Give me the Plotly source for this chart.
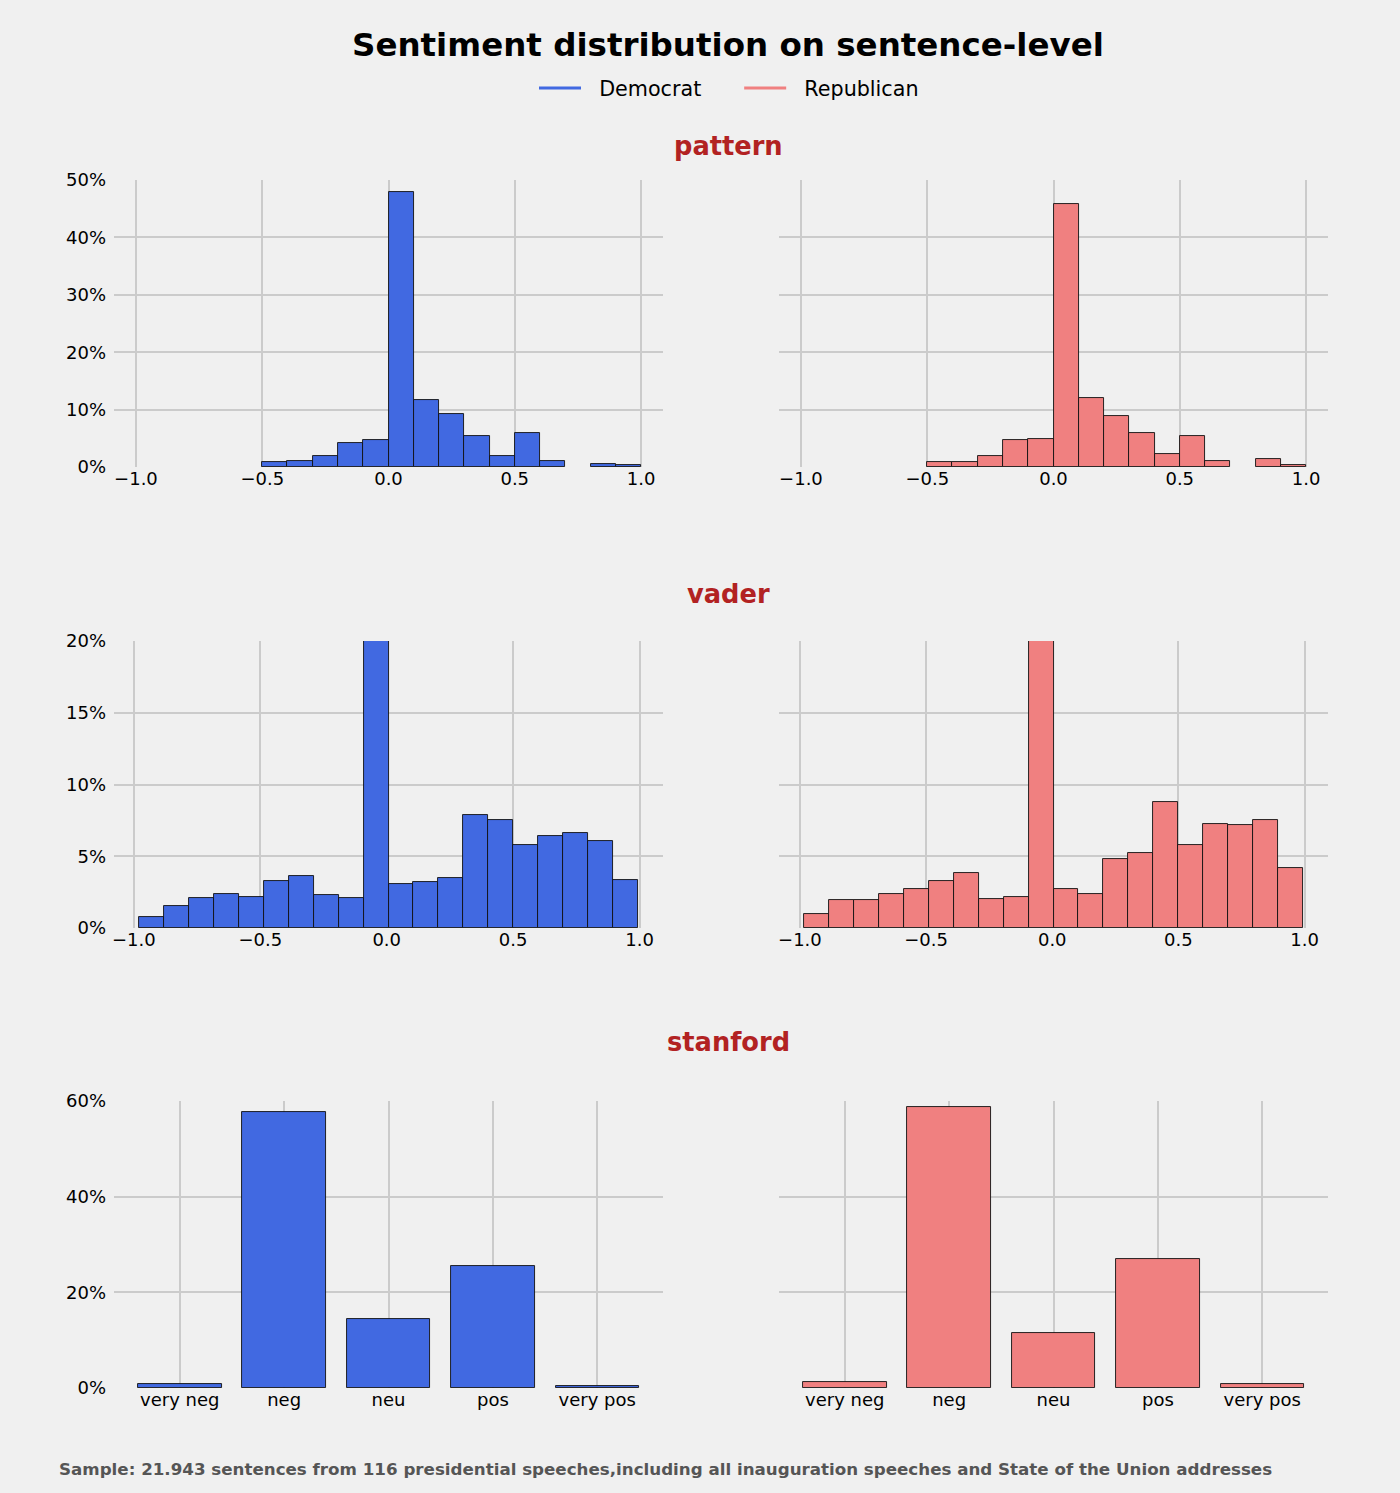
import numpy as np
import plotly.graph_objects as go

# ---------------- data (percent of sentences) ----------------
parties = ["Democrat", "Republican"]
party_colors = ["#4169E1", "#F08080"]

# pattern: bins of width 0.1 from -0.5 to 1.0
pattern_edges = [-0.5, -0.4, -0.3, -0.2, -0.1, 0.0, 0.1, 0.2, 0.3, 0.4, 0.5, 0.6, 0.7, 0.8, 0.9, 1.0]
pattern_dem = [0.9, 1.0, 2.0, 4.2, 4.7, 47.9, 11.7, 9.2, 5.4, 2.0, 5.9, 1.0, 0.0, 0.5, 0.3]
pattern_rep = [0.9, 0.9, 2.0, 4.7, 4.8, 45.9, 12.1, 8.9, 5.9, 2.2, 5.4, 1.0, 0.0, 1.4, 0.3]

# vader: 20 equal bins between the min and max compound score
vader_dem_range = [-0.980, 0.994]
vader_rep_range = [-0.984, 0.994]
vader_dem = [0.75, 1.5, 2.1, 2.4, 2.15, 3.25, 3.6, 2.3, 2.1, 24.0,
             3.05, 3.2, 3.5, 7.9, 7.55, 5.75, 6.4, 6.65, 6.05, 3.35]
vader_rep = [1.0, 1.95, 1.95, 2.35, 2.75, 3.25, 3.8, 2.0, 2.15, 24.0,
             2.75, 2.4, 4.8, 5.2, 8.75, 5.75, 7.25, 7.2, 7.55, 4.2]

# stanford: categorical classes
stanford_labels = ["very neg", "neg", "neu", "pos", "very pos"]
stanford_dem = [0.8, 57.8, 14.5, 25.6, 0.5]
stanford_rep = [1.3, 58.7, 11.4, 26.9, 0.8]

pattern_xticks = [-1.0, -0.5, 0.0, 0.5, 1.0]
pattern_xticktext = ["\u22121.0", "\u22120.5", "0.0", "0.5", "1.0"]

# ---------------- layout geometry ----------------
W, H = 1400, 1493
FONT = "DejaVu Sans"
BG = "#F0F0F0"
GRID = "#CBCBCB"
NB = "\u00a0"

col_dom = [[114 / W, 663 / W], [779 / W, 1328 / W]]
row_px = [(180, 467), (641, 928), (1101, 1388)]
row_dom = [[1 - b / H, 1 - t / H] for t, b in row_px]

fig = go.Figure()


def hist_bars(edges, vals, color, xa, ya):
    edges = np.asarray(edges, dtype=float)
    centers = (edges[:-1] + edges[1:]) / 2
    widths = edges[1:] - edges[:-1]
    yv = [v if v > 0 else None for v in vals]
    fig.add_trace(go.Bar(
        x=centers, y=yv, width=widths,
        marker=dict(color=color, line=dict(color="#111111", width=0.9)),
        xaxis=xa, yaxis=ya, showlegend=False, hoverinfo="x+y"))


# row 1: pattern
hist_bars(pattern_edges, pattern_dem, party_colors[0], "x", "y")
hist_bars(pattern_edges, pattern_rep, party_colors[1], "x2", "y2")

# row 2: vader
vd_edges = np.linspace(vader_dem_range[0], vader_dem_range[1], len(vader_dem) + 1)
vr_edges = np.linspace(vader_rep_range[0], vader_rep_range[1], len(vader_rep) + 1)
hist_bars(vd_edges, vader_dem, party_colors[0], "x3", "y3")
hist_bars(vr_edges, vader_rep, party_colors[1], "x4", "y4")

# row 3: stanford
for vals, color, xa, ya in [(stanford_dem, party_colors[0], "x5", "y5"),
                            (stanford_rep, party_colors[1], "x6", "y6")]:
    fig.add_trace(go.Bar(
        x=list(range(len(stanford_labels))), y=vals, width=0.8,
        marker=dict(color=color, line=dict(color="#111111", width=0.9)),
        xaxis=xa, yaxis=ya, showlegend=False))

# legend entries (lines)
legend_names = [NB * 2 + parties[0] + NB * 5, NB * 2 + parties[1]]
for name, color in zip(legend_names, party_colors):
    fig.add_trace(go.Scatter(x=[None], y=[None], mode="lines", name=name,
                             line=dict(color=color, width=3),
                             xaxis="x", yaxis="y"))

tickfont = dict(family=FONT, size=18, color="#000000")


def xax(dom, rng, tickvals, ticktext, anchor):
    return dict(domain=dom, range=rng, tickvals=tickvals, ticktext=ticktext,
                showgrid=True, gridcolor=GRID, gridwidth=1.5, zeroline=False,
                showline=False, ticks="", ticklen=0, tickfont=tickfont, anchor=anchor,
                ticklabelstandoff=-1, fixedrange=True, automargin=False)


def yax(dom, rng, dtick, show, anchor):
    return dict(domain=dom, range=rng, dtick=dtick, tick0=0, ticksuffix="%",
                showgrid=True, gridcolor=GRID, gridwidth=1.5, zeroline=False,
                showline=False, ticks="", ticklen=0, tickfont=tickfont, anchor=anchor,
                showticklabels=show, ticklabelstandoff=7, fixedrange=True,
                automargin=False)


def vrange(r):
    w = r[1] - r[0]
    return [r[0] - 0.05 * w, r[1] + 0.05 * w]


pat_rng = [-1.087, 1.087]
axes = {}
axes["xaxis"] = xax(col_dom[0], pat_rng, pattern_xticks, pattern_xticktext, "y")
axes["xaxis2"] = xax(col_dom[1], pat_rng, pattern_xticks, pattern_xticktext, "y2")
axes["xaxis3"] = xax(col_dom[0], vrange(vader_dem_range), pattern_xticks, pattern_xticktext, "y3")
axes["xaxis4"] = xax(col_dom[1], vrange(vader_rep_range), pattern_xticks, pattern_xticktext, "y4")
axes["xaxis5"] = xax(col_dom[0], [-0.63, 4.63], list(range(5)), stanford_labels, "y5")
axes["xaxis6"] = xax(col_dom[1], [-0.63, 4.63], list(range(5)), stanford_labels, "y6")
axes["yaxis"] = yax(row_dom[0], [0, 50], 10, True, "x")
axes["yaxis2"] = yax(row_dom[0], [0, 50], 10, False, "x2")
axes["yaxis3"] = yax(row_dom[1], [0, 20], 5, True, "x3")
axes["yaxis4"] = yax(row_dom[1], [0, 20], 5, False, "x4")
axes["yaxis5"] = yax(row_dom[2], [0, 60], 20, True, "x5")
axes["yaxis6"] = yax(row_dom[2], [0, 60], 20, False, "x6")

annotations = [
    dict(text="<b>Sentiment distribution on sentence-level</b>", x=728 / W, y=1 - 45 / H,
         xref="paper", yref="paper", showarrow=False, xanchor="center", yanchor="middle",
         font=dict(family=FONT, size=32.5, color="#000000")),
]
for title, ypx in [("pattern", 146), ("vader", 594), ("stanford", 1042)]:
    annotations.append(dict(text=f"<b>{title}</b>", x=728 / W, y=1 - ypx / H,
                            xref="paper", yref="paper", showarrow=False,
                            xanchor="center", yanchor="middle",
                            font=dict(family=FONT, size=25.7, color="#B22222")))
annotations.append(dict(
    text="<b>Sample: 21.943 sentences from 116 presidential speeches,including all inauguration speeches and State of the Union addresses</b>",
    x=57 / W, y=1 - 1469 / H, xref="paper", yref="paper", showarrow=False,
    xanchor="left", yanchor="middle", font=dict(family=FONT, size=16.7, color="#555555")))

fig.update_layout(
    width=W, height=H,
    margin=dict(l=0, r=0, t=0, b=0, autoexpand=False),
    paper_bgcolor=BG, plot_bgcolor=BG,
    font=dict(family=FONT, color="#000000"),
    barmode="overlay", bargap=0,
    showlegend=True,
    legend=dict(orientation="h", x=729 / W, y=1 - 88 / H, xanchor="center", yanchor="middle",
                font=dict(family=FONT, size=20.7, color="#000000"), bgcolor="rgba(0,0,0,0)",
                itemwidth=42, traceorder="normal"),
    annotations=annotations,
    **axes,
)

fig.write_html("out.html")
